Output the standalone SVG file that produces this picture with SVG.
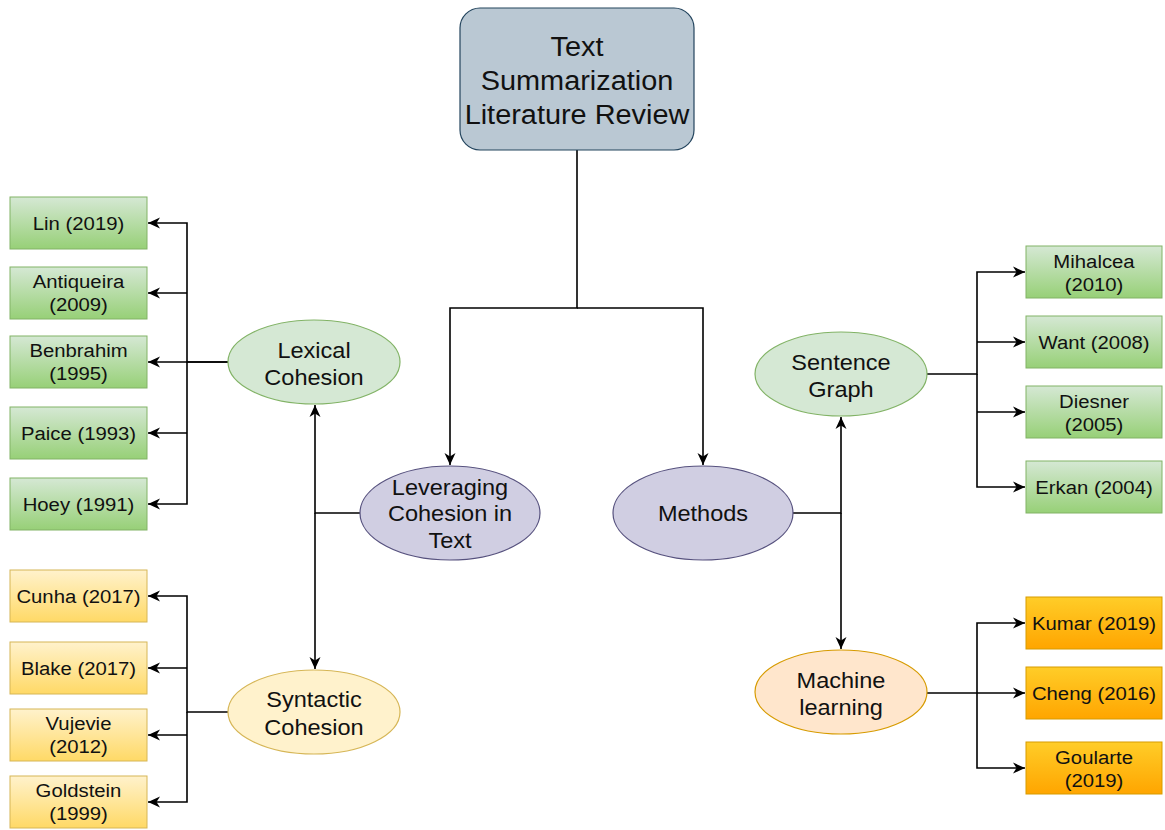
<svg xmlns="http://www.w3.org/2000/svg" width="1165" height="830" viewBox="0 0 1165 830">
<defs>
<linearGradient id="gGreen" x1="0" y1="0" x2="0" y2="1"><stop offset="0" stop-color="#d5e8d4"/><stop offset="1" stop-color="#97d077"/></linearGradient>
<linearGradient id="gYellow" x1="0" y1="0" x2="0" y2="1"><stop offset="0" stop-color="#fff2cc"/><stop offset="1" stop-color="#ffd966"/></linearGradient>
<linearGradient id="gOrange" x1="0" y1="0" x2="0" y2="1"><stop offset="0" stop-color="#ffcd28"/><stop offset="1" stop-color="#ffa500"/></linearGradient>
<marker id="arr" markerUnits="userSpaceOnUse" markerWidth="14" markerHeight="12" refX="12" refY="6" orient="auto">
<path d="M0,0.5 L12,6 L0,11.5 L3.5,6 Z" fill="#000"/>
</marker>
<style>
text{font-family:"Liberation Sans",Arial,Helvetica,sans-serif;fill:#111;text-anchor:middle}
.bt{font-size:19px}
.et{font-size:22px}
.tt{font-size:27px}
.bg{fill:url(#gGreen);stroke:#82b366;stroke-width:1}
.by{fill:url(#gYellow);stroke:#d6b656;stroke-width:1}
.bo{fill:url(#gOrange);stroke:#d79b00;stroke-width:1}
.eg{fill:#d5e8d4;stroke:#82b366;stroke-width:1.2}
.ey{fill:#fff2cc;stroke:#d6b656;stroke-width:1.2}
.eo{fill:#ffe6cc;stroke:#d79b00;stroke-width:1.2}
.ep{fill:#d0cee2;stroke:#56517e;stroke-width:1.2}
.c{fill:none;stroke:#000;stroke-width:1.6;marker-end:url(#arr)}
.cn{fill:none;stroke:#000;stroke-width:1.6}
</style>
</defs>
<rect width="1165" height="830" fill="#fff"/>

<g id="connectors">
<path class="c" d="M577,150 V308 H450 V465"/>
<path class="c" d="M577,308 H703 V465"/>
<path class="c" d="M360,513 H315 V405"/>
<path class="c" d="M315,513 V669"/>
<path class="c" d="M228,362 H187 V223 H148"/>
<path class="c" d="M187,293 H148"/>
<path class="c" d="M228,362 H148"/>
<path class="c" d="M187,433 H148"/>
<path class="c" d="M187,362 V504 H148"/>
<path class="c" d="M228,712 H187 V596 H148"/>
<path class="c" d="M187,668 H148"/>
<path class="c" d="M187,712 V802 H148"/>
<path class="c" d="M187,735 H148"/>
<path class="c" d="M793,513 H841 V417"/>
<path class="c" d="M841,513 V649"/>
<path class="c" d="M927,374 H977 V272 H1025"/>
<path class="c" d="M977,342 H1025"/>
<path class="c" d="M977,374 V487 H1025"/>
<path class="c" d="M977,412 H1025"/>
<path class="c" d="M927,693 H1025"/>
<path class="c" d="M977,693 V623 H1025"/>
<path class="c" d="M977,693 V768 H1025"/>
</g>

<g id="title">
<rect x="460" y="8" width="234" height="142" rx="20" ry="20" fill="#bac8d3" stroke="#23445d" stroke-width="1.2"/>
<text class="tt" transform="translate(577 0) scale(1.07 1)" x="0" y="56">Text</text>
<text class="tt" transform="translate(577 0) scale(1.07 1)" x="0" y="90">Summarization</text>
<text class="tt" transform="translate(577 0) scale(1.07 1)" x="0" y="124">Literature Review</text>
</g>

<g id="leveraging">
<ellipse class="ep" cx="450" cy="513" rx="90" ry="47"/>
<text class="et" transform="translate(450 0) scale(1.07 1)" x="0" y="495">Leveraging</text>
<text class="et" transform="translate(450 0) scale(1.07 1)" x="0" y="521">Cohesion in</text>
<text class="et" transform="translate(450 0) scale(1.07 1)" x="0" y="548">Text</text>
</g>

<g id="methods">
<ellipse class="ep" cx="703" cy="513" rx="90" ry="47"/>
<text class="et" transform="translate(703 0) scale(1.07 1)" x="0" y="521">Methods</text>
</g>

<g id="lexical">
<ellipse class="eg" cx="314" cy="362" rx="86" ry="42"/>
<text class="et" transform="translate(314 0) scale(1.07 1)" x="0" y="358">Lexical</text>
<text class="et" transform="translate(314 0) scale(1.07 1)" x="0" y="385">Cohesion</text>
</g>

<g id="syntactic">
<ellipse class="ey" cx="314" cy="712" rx="86" ry="42"/>
<text class="et" transform="translate(314 0) scale(1.07 1)" x="0" y="707">Syntactic</text>
<text class="et" transform="translate(314 0) scale(1.07 1)" x="0" y="735">Cohesion</text>
</g>

<g id="sentence">
<ellipse class="eg" cx="841" cy="374" rx="86" ry="42"/>
<text class="et" transform="translate(841 0) scale(1.07 1)" x="0" y="370">Sentence</text>
<text class="et" transform="translate(841 0) scale(1.07 1)" x="0" y="397">Graph</text>
</g>

<g id="machine">
<ellipse class="eo" cx="841" cy="692" rx="86" ry="42"/>
<text class="et" transform="translate(841 0) scale(1.07 1)" x="0" y="688">Machine</text>
<text class="et" transform="translate(841 0) scale(1.07 1)" x="0" y="715">learning</text>
</g>

<g id="lin"><rect class="bg" x="10" y="197" width="137" height="52"/><text class="bt" transform="translate(78.5 0) scale(1.07 1)" x="0" y="230">Lin (2019)</text></g>
<g id="antiqueira"><rect class="bg" x="10" y="267" width="137" height="52"/><text class="bt" transform="translate(78.5 0) scale(1.07 1)" x="0" y="288">Antiqueira</text><text class="bt" transform="translate(78.5 0) scale(1.07 1)" x="0" y="311">(2009)</text></g>
<g id="benbrahim"><rect class="bg" x="10" y="336" width="137" height="52"/><text class="bt" transform="translate(78.5 0) scale(1.07 1)" x="0" y="357">Benbrahim</text><text class="bt" transform="translate(78.5 0) scale(1.07 1)" x="0" y="380">(1995)</text></g>
<g id="paice"><rect class="bg" x="10" y="407" width="137" height="52"/><text class="bt" transform="translate(78.5 0) scale(1.07 1)" x="0" y="440">Paice (1993)</text></g>
<g id="hoey"><rect class="bg" x="10" y="478" width="137" height="52"/><text class="bt" transform="translate(78.5 0) scale(1.07 1)" x="0" y="511">Hoey (1991)</text></g>

<g id="cunha"><rect class="by" x="10" y="570" width="137" height="52"/><text class="bt" transform="translate(78.5 0) scale(1.07 1)" x="0" y="603">Cunha (2017)</text></g>
<g id="blake"><rect class="by" x="10" y="642" width="137" height="52"/><text class="bt" transform="translate(78.5 0) scale(1.07 1)" x="0" y="675">Blake (2017)</text></g>
<g id="vujevie"><rect class="by" x="10" y="709" width="137" height="52"/><text class="bt" transform="translate(78.5 0) scale(1.07 1)" x="0" y="730">Vujevie</text><text class="bt" transform="translate(78.5 0) scale(1.07 1)" x="0" y="753">(2012)</text></g>
<g id="goldstein"><rect class="by" x="10" y="776" width="137" height="52"/><text class="bt" transform="translate(78.5 0) scale(1.07 1)" x="0" y="797">Goldstein</text><text class="bt" transform="translate(78.5 0) scale(1.07 1)" x="0" y="820">(1999)</text></g>

<g id="mihalcea"><rect class="bg" x="1026" y="246" width="136" height="52"/><text class="bt" transform="translate(1094 0) scale(1.07 1)" x="0" y="268">Mihalcea</text><text class="bt" transform="translate(1094 0) scale(1.07 1)" x="0" y="291">(2010)</text></g>
<g id="want"><rect class="bg" x="1026" y="316" width="136" height="52"/><text class="bt" transform="translate(1094 0) scale(1.07 1)" x="0" y="349">Want (2008)</text></g>
<g id="diesner"><rect class="bg" x="1026" y="386" width="136" height="52"/><text class="bt" transform="translate(1094 0) scale(1.07 1)" x="0" y="408">Diesner</text><text class="bt" transform="translate(1094 0) scale(1.07 1)" x="0" y="431">(2005)</text></g>
<g id="erkan"><rect class="bg" x="1026" y="461" width="136" height="52"/><text class="bt" transform="translate(1094 0) scale(1.07 1)" x="0" y="494">Erkan (2004)</text></g>

<g id="kumar"><rect class="bo" x="1026" y="597" width="136" height="52"/><text class="bt" transform="translate(1094 0) scale(1.07 1)" x="0" y="630">Kumar (2019)</text></g>
<g id="cheng"><rect class="bo" x="1026" y="667" width="136" height="52"/><text class="bt" transform="translate(1094 0) scale(1.07 1)" x="0" y="700">Cheng (2016)</text></g>
<g id="goularte"><rect class="bo" x="1026" y="742" width="136" height="52"/><text class="bt" transform="translate(1094 0) scale(1.07 1)" x="0" y="764">Goularte</text><text class="bt" transform="translate(1094 0) scale(1.07 1)" x="0" y="787">(2019)</text></g>
</svg>
